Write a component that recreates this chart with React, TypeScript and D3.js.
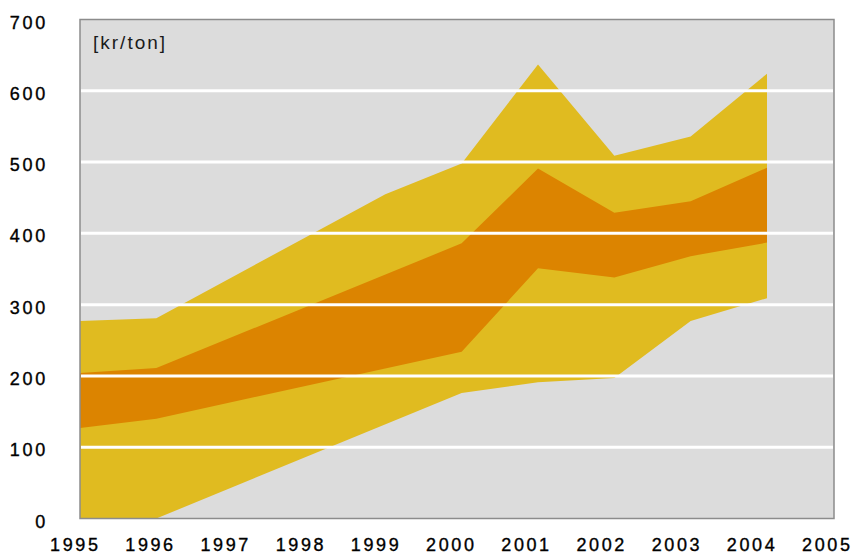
import React from "react";
import * as d3 from "d3";

// Years with a recorded vertex; null where a boundary has no break point.
const years = [1995, 1996, 1999, 2000, 2001, 2002, 2003, 2004];
// Band boundaries, kr/ton (lowest to highest)
const lowOuter: (number | null)[] = [0, 0, null, 176, 191, 197, 277, 309];
const lowInner: (number | null)[] = [127, 140, null, 234, 351, 338, 368, 387];
const highInner: (number | null)[] = [204, 211, null, 386, 491, 429, 445, 492];
const highOuter: (number | null)[] = [277, 281, 455, 498, 637, 509, 536, 624];

const axisYears = [1995, 1996, 1997, 1998, 1999, 2000, 2001, 2002, 2003, 2004, 2005];
const yTicks = [0, 100, 200, 300, 400, 500, 600, 700];
const gridValues = [100, 200, 300, 400, 500, 600];
const unitLabel = "[kr/ton]";

const W = 854;
const H = 554;
const plot = { left: 80, right: 834, top: 19.5, bottom: 518.5 };

const YELLOW = "#e0bb20";
const ORANGE = "#dc8400";

export default function App() {
  const x = d3.scaleLinear().domain([1995, 2004]).range([plot.left, 767]);
  const xLabel = d3.scaleLinear().domain([1995, 2005]).range([74, 826]);
  const y = d3.scaleLinear().domain([0, 700]).range([plot.bottom, plot.top]);

  const pts = (s: (number | null)[]) =>
    years
      .map((yr, i) => [yr, s[i]] as [number, number | null])
      .filter((d) => d[1] !== null) as [number, number][];

  const line = d3
    .line<[number, number]>()
    .x((d) => x(d[0]))
    .y((d) => y(d[1]));

  const band = (upper: (number | null)[], lower: (number | null)[]) =>
    line([...pts(upper), ...pts(lower).reverse()]) + "Z";

  const font = "'Liberation Sans', Arial, sans-serif";

  return (
    <svg
      width={W}
      height={H}
      style={{ position: "absolute", left: 0, top: 0, background: "#fff" }}
    >
      <rect
        x={plot.left}
        y={plot.top}
        width={plot.right - plot.left}
        height={plot.bottom - plot.top}
        fill="#dcdcdc"
      />
      <path d={band(highOuter, lowOuter)} fill={YELLOW} />
      <path d={band(highInner, lowInner)} fill={ORANGE} />
      {gridValues.map((v) => (
        <line
          key={v}
          x1={plot.left + 1}
          x2={plot.right - 1}
          y1={y(v)}
          y2={y(v)}
          stroke="#fff"
          strokeWidth={3}
        />
      ))}
      <rect
        x={plot.left}
        y={plot.top}
        width={plot.right - plot.left}
        height={plot.bottom - plot.top}
        fill="none"
        stroke="#8c8c8c"
        strokeWidth={1.5}
      />
      <text
        x={93}
        y={49}
        fontFamily={font}
        fontSize={19}
        letterSpacing={2}
        fill="#1a1a1a"
      >
        {unitLabel}
      </text>
      <g stroke="#000" strokeWidth={0.35}>
        {yTicks.map((v) => (
          <text
            key={v}
            x={48}
            y={y(v) + 3}
            dominantBaseline="central"
            textAnchor="end"
            fontFamily={font}
            fontSize={18}
            letterSpacing={2.7}
            fill="#000"
          >
            {v}
          </text>
        ))}
        {axisYears.map((yr) => (
          <text
            key={yr}
            x={xLabel(yr) + 1.3}
            y={551}
            textAnchor="middle"
            fontFamily={font}
            fontSize={18}
            letterSpacing={2.6}
            fill="#000"
          >
            {yr}
          </text>
        ))}
      </g>
    </svg>
  );
}
